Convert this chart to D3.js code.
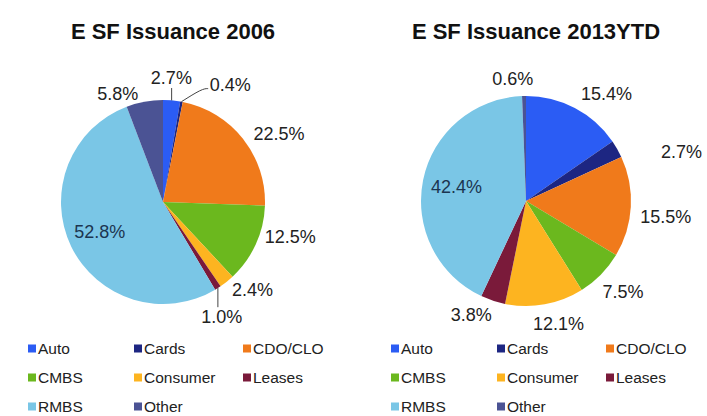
<!DOCTYPE html>
<html>
<head>
<meta charset="utf-8">
<script src="https://cdn.jsdelivr.net/npm/d3@7"></script>
<style>
  body { margin: 0; background: #fff; }
  text { font-family: "Liberation Sans", Arial, sans-serif; }
</style>
</head>
<body>
<div id="graph"></div>
<script>
// categories, in pie order (clockwise from 12 o'clock)
var categories = ['Auto', 'Cards', 'CDO/CLO', 'CMBS', 'Consumer', 'Leases', 'RMBS', 'Other']
var colors = ['#2b5cf4', '#1d2682', '#f07a1b', '#6bb81e', '#fdb420', '#7a1a3a', '#7ac6e6', '#4b5394']

var titles = ['E SF Issuance 2006', 'E SF Issuance 2013YTD']
var share2006 = [2.7, 0.4, 22.5, 12.5, 2.4, 1.0, 52.8, 5.8]
var share2013 = [15.4, 2.7, 15.5, 7.5, 12.1, 3.8, 42.4, 0.6]

// legend layout: 3 columns
var legendCols = 3

var width = 707, height = 416

var svg = d3.select('#graph').append('svg')
  .attr('width', width).attr('height', height)

// placement tweaks for the labels (relative to a point at 1.2r on the slice middle)
var pies = [
  {title: titles[0], values: share2006, cx: 163, cy: 202, r: 102,
    nudge: [[-2, -2], [45, 3], [20, 8], [16, -16], [13, -8], [-7, 12], [47, -24], [-23, 12]],
    leaders: {Auto: 'below', Cards: 'left', Leases: 'above'}},
  {title: titles[1], values: share2013, cx: 526, cy: 201, r: 105,
    nudge: [[22, 4], [46, 13], [14, 9], [7, 2], [10, -1], [-15, -6], [54, 11], [-11, 4]],
    leaders: {}}
]

var pie = d3.pie().sort(null).value(d => d.value)

pies.forEach(p => {
  var g = svg.append('g').attr('transform', `translate(${p.cx},${p.cy})`)
  var data = categories.map((c, i) => ({name: c, value: p.values[i], color: colors[i]}))
  var arcs = pie(data)
  var arc = d3.arc().innerRadius(0).outerRadius(p.r)
  var labelArc = d3.arc().innerRadius(p.r * 1.2).outerRadius(p.r * 1.2)
  var edgeArc = d3.arc().innerRadius(p.r).outerRadius(p.r)

  // title
  svg.append('text')
    .attr('x', p.cx + 10).attr('y', 39)
    .attr('text-anchor', 'middle')
    .attr('font-size', 22).attr('font-weight', 'bold').attr('fill', '#111')
    .text(p.title)

  g.selectAll('path.slice').data(arcs).enter().append('path')
    .attr('class', 'slice')
    .attr('d', arc)
    .attr('fill', d => d.data.color)

  var fmt = d3.format('.1f')

  arcs.forEach((d, i) => {
    var c = labelArc.centroid(d)
    var lx = c[0] + p.nudge[i][0], ly = c[1] + p.nudge[i][1]
    var label = fmt(d.data.value) + '%'
    var inside = d.data.name == 'RMBS'
    g.append('text')
      .attr('x', lx).attr('y', ly).attr('dy', '0.35em')
      .attr('text-anchor', 'middle')
      .attr('font-size', 18)
      .attr('fill', inside ? '#1c3550' : '#222')
      .text(label)

    var side = p.leaders[d.data.name]
    if (side) {
      var s = edgeArc.centroid(d)
      var pts
      if (side == 'below') pts = [s, [s[0], ly + 10]]
      if (side == 'above') pts = [s, [s[0], ly - 10]]
      if (side == 'left') pts = [s, [lx - 28, ly + 4], [lx - 22, ly + 4]]
      g.append('path')
        .attr('d', d3.line().curve(d3.curveBasis)(pts))
        .attr('fill', 'none').attr('stroke', '#444').attr('stroke-width', 1)
    }
  })

  // legend
  var colX = d3.scaleOrdinal().domain([0, 1, 2]).range([p.cx - 135, p.cx - 29, p.cx + 80])
  var rowY = d3.scaleLinear().domain([0, 1]).range([349, 378])
  var lg = svg.append('g')
  categories.forEach((c, i) => {
    var x = colX(i % legendCols), y = rowY(Math.floor(i / legendCols))
    lg.append('rect')
      .attr('x', x).attr('y', y - 4.5).attr('width', 8).attr('height', 8)
      .attr('fill', colors[i])
    lg.append('text')
      .attr('x', x + 10).attr('y', y).attr('dy', '0.35em')
      .attr('font-size', 15.5).attr('fill', '#222')
      .text(c)
  })
})
</script>
</body>
</html>
